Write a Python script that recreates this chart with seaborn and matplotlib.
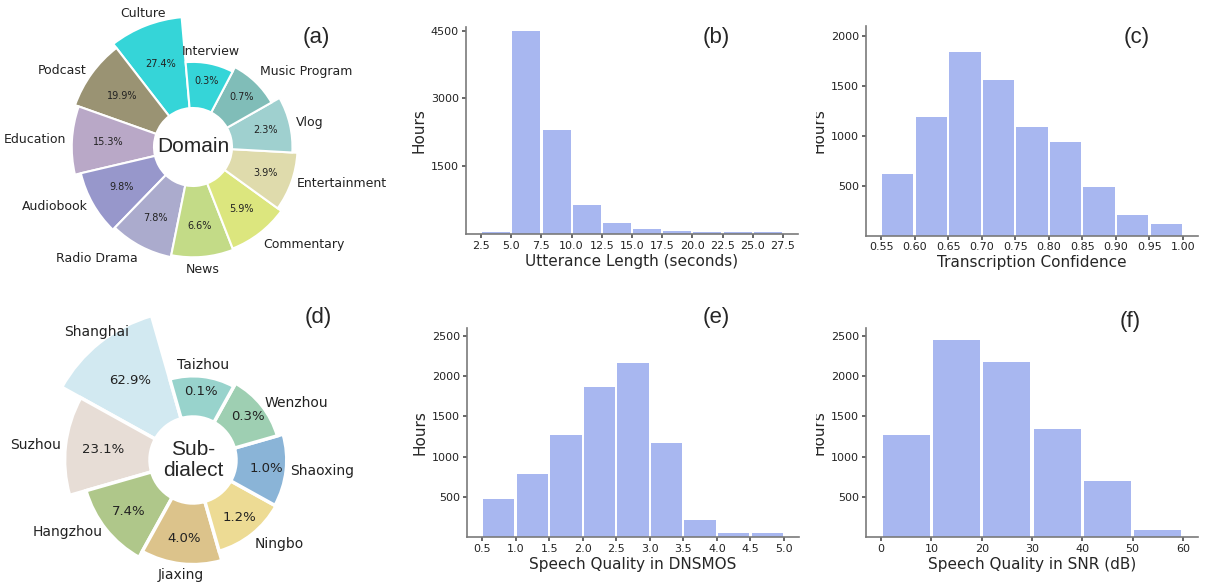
import matplotlib
matplotlib.use('Agg')
import matplotlib.pyplot as plt
import numpy as np
import pandas as pd
import seaborn as sns
from matplotlib.transforms import Bbox, TransformedBbox

# ---- data ----
domain_labels = ['Culture', 'Podcast', 'Education', 'Audiobook', 'Radio Drama', 'News',
                 'Commentary', 'Entertainment', 'Vlog', 'Music Program', 'Interview']
domain_pct = [27.4, 19.9, 15.3, 9.8, 7.8, 6.6, 5.9, 3.9, 2.3, 0.7, 0.3]
domain_colors = ['#35D5D8', '#9A9373', '#B9A8C7', '#9797CB', '#ABABCD', '#C3DB87',
                 '#DCE67E', '#DFDBAC', '#9FD0CF', '#80BDB8', '#35D5D8']

dialect_labels = ['Shanghai', 'Suzhou', 'Hangzhou', 'Jiaxing', 'Ningbo', 'Shaoxing',
                  'Wenzhou', 'Taizhou']
dialect_pct = [62.9, 23.1, 7.4, 4.0, 1.2, 1.0, 0.3, 0.1]
dialect_colors = ['#D2E9F1', '#E7DDD6', '#AFC78A', '#DCC38B', '#EDDB94', '#8AB4D7',
                  '#9ECFB2', '#98D3CC']

len_edges = [2.5, 5.0, 7.5, 10.0, 12.5, 15.0, 17.5, 20.0, 22.5, 25.0, 27.5]
len_hours = [55, 4500, 2290, 640, 250, 120, 70, 55, 55, 55]

conf_edges = [0.55, 0.60, 0.65, 0.70, 0.75, 0.80, 0.85, 0.90, 0.95, 1.00]
conf_hours = [615, 1185, 1840, 1560, 1085, 935, 490, 210, 115]

mos_edges = [0.5, 1.0, 1.5, 2.0, 2.5, 3.0, 3.5, 4.0, 4.5, 5.0]
mos_hours = [470, 783, 1267, 1860, 2170, 1168, 211, 50, 50]

snr_edges = [0, 10, 20, 30, 40, 50, 60]
snr_hours = [1267, 2447, 2183, 1338, 692, 87]

BAR = '#A8B7F0'
W, H = 1205, 584


def px_axes(fig, left, top, right, bottom, **kw):
    return fig.add_axes([left / W, 1 - bottom / H, (right - left) / W, (bottom - top) / H], **kw)


def rose(fig, cx, cy, labels, pct, colors, hole, base, k, power, start_deg,
         lab_size, pct_size, lw, pad, center_text):
    S = 180
    ax = px_axes(fig, cx - S, cy - S, cx + S, cy + S, projection='polar')
    ax.set_ylim(0, S)
    n = len(pct)
    span = 2 * np.pi / n
    theta = np.deg2rad(start_deg) + span * (np.arange(n) + 0.5)
    # wedge length grows with the share, compressed so small slices stay visible
    r_out = base + k * np.power(pct, power)
    ax.bar(theta, r_out - hole, width=span, bottom=hole, color=colors,
           edgecolor='white', linewidth=lw)
    for t, r, lab, p in zip(theta, r_out, labels, pct):
        c, s = np.cos(t), np.sin(t)
        lim = 0.65 if s > 0 else 0.4
        ha = 'left' if c > lim else ('right' if c < -lim else 'center')
        va = 'bottom' if s > 0.7 else ('top' if s < -0.7 else 'center')
        ax.text(t, r + pad, lab, ha=ha, va=va, fontsize=lab_size, color='#222222')
        ax.text(t, (hole + r) / 2 + 5, f'{p:.1f}%', ha='center', va='center',
                fontsize=pct_size, color='#222222')
    ax.text(0, 0, center_text, ha='center', va='center', fontsize=15,
            family='Liberation Sans', linespacing=1.15)
    ax.set_axis_off()
    return ax


def hist_panel(ax, edges, hours, xlabel, yticks, ytop, fmt):
    edges = [float(e) for e in edges]
    mids = [(a + b) / 2 for a, b in zip(edges[:-1], edges[1:])]
    df = pd.DataFrame({'x': mids, 'hours': hours})
    sns.histplot(data=df, x='x', weights='hours', bins=edges, ax=ax, color=BAR, alpha=1,
                 shrink=0.93, linewidth=0)
    rng = edges[-1] - edges[0]
    ax.set_xlim(edges[0] - 0.05 * rng, edges[-1] + 0.05 * rng)
    ax.set_ylim(0, ytop)
    ax.set_xticks(edges)
    ax.set_xticklabels([fmt.format(e) for e in edges])
    ax.set_yticks(yticks)
    ax.set_xlabel(xlabel, fontsize=11, labelpad=2)
    ax.set_ylabel('Hours', fontsize=11, labelpad=3)
    sns.despine(ax=ax)
    for sp in ['left', 'bottom']:
        ax.spines[sp].set_color('#7a7a7a')
        ax.spines[sp].set_linewidth(1.2)
    ax.tick_params(labelsize=8, length=3, color='#555555', labelcolor='#222222', pad=2)


sns.set_theme(style='ticks')
plt.rcParams['font.family'] = ['DejaVu Sans']

fig = plt.figure(figsize=(W / 100, H / 100), dpi=100)

rose(fig, 193, 147, domain_labels, domain_pct, domain_colors, hole=39, base=63.5, k=29.2,
     power=0.25, start_deg=95, lab_size=9, pct_size=7, lw=1.5, pad=6, center_text='Domain')
rose(fig, 193, 460, dialect_labels, dialect_pct, dialect_colors, hole=43, base=76.5, k=17.3,
     power=0.35, start_deg=106, lab_size=10, pct_size=9.5, lw=2.5, pad=4,
     center_text='Sub-\ndialect')

ax_b = px_axes(fig, 466, 27, 798, 234)
hist_panel(ax_b, len_edges, len_hours, 'Utterance Length (seconds)', [1500, 3000, 4500], 4580, '{:.1f}')
ax_c = px_axes(fig, 866, 26, 1198, 235.5)
hist_panel(ax_c, conf_edges, conf_hours, 'Transcription Confidence', [500, 1000, 1500, 2000], 2100, '{:.2f}')
ax_e = px_axes(fig, 467, 328, 799, 537)
hist_panel(ax_e, mos_edges, mos_hours, 'Speech Quality in DNSMOS', [500, 1000, 1500, 2000, 2500], 2600, '{:.1f}')
ax_f = px_axes(fig, 866, 328, 1198, 537)
hist_panel(ax_f, snr_edges, snr_hours, 'Speech Quality in SNR (dB)', [500, 1000, 1500, 2000, 2500], 2600, '{:.0f}')

# right-column "Hours" labels are cut off on the left in the reference
for ax in (ax_c, ax_f):
    lab = ax.yaxis.label
    lab.set_clip_on(True)
    lab.set_clip_box(TransformedBbox(Bbox.from_extents(816 / W, 0, 1, 1), fig.transFigure))

panel_pos = {'(a)': (316, 38), '(b)': (716, 38), '(c)': (1137, 38),
             '(d)': (318, 318), '(e)': (716, 318), '(f)': (1130, 322)}
for txt, (x, y) in panel_pos.items():
    fig.text(x / W, 1 - y / H, txt, ha='center', va='center', fontsize=16,
             family='Liberation Sans')

fig.savefig('out.png', dpi=100)
